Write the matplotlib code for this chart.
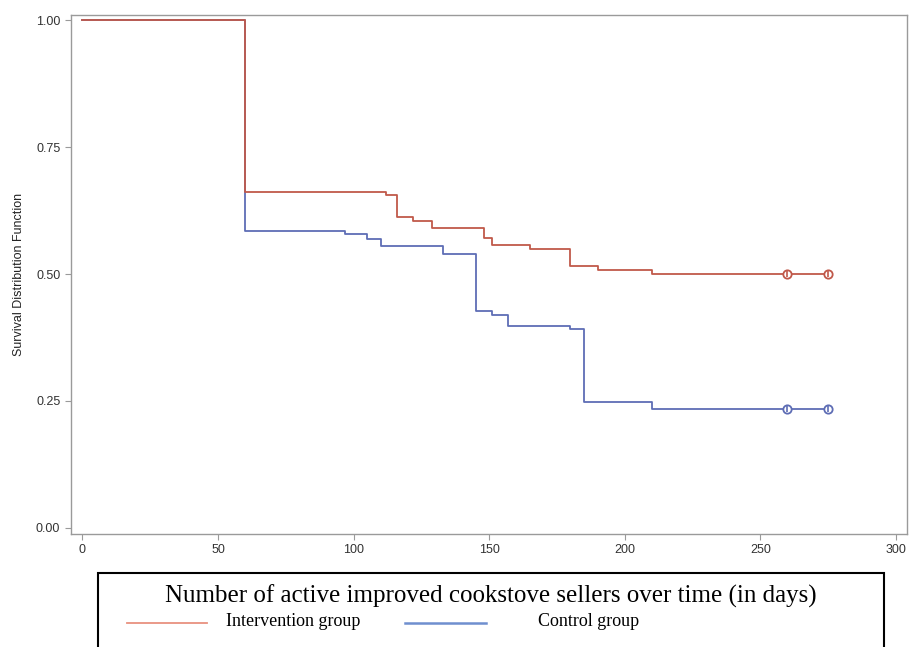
'''Kaplan-Meier curves: active improved cookstove sellers over time'''
import matplotlib
matplotlib.use('Agg')
import matplotlib.pyplot as plt
from matplotlib.patches import Rectangle
from matplotlib.lines import Line2D

# step times (days) and survival estimates
intervention_days = [0, 60, 112, 116, 122, 129, 148, 151, 165, 180, 190, 210, 275]
intervention_surv = [1.0, 0.661, 0.655, 0.612, 0.604, 0.591, 0.571, 0.558,
                     0.549, 0.516, 0.509, 0.501, 0.501]
control_days = [0, 60, 97, 105, 110, 133, 145, 151, 157, 180, 185, 210, 275]
control_surv = [1.0, 0.585, 0.578, 0.570, 0.555, 0.539, 0.427, 0.420,
                0.398, 0.392, 0.247, 0.234, 0.234]
censor_days = [260, 275]
intervention_censor = [0.501, 0.501]
control_censor = [0.234, 0.234]

x_ticks = [0, 50, 100, 150, 200, 250, 300]
y_ticks = [0.00, 0.25, 0.50, 0.75, 1.00]

RED = '#C0594A'
BLUE = '#5E6DB5'
GREY = '#9A9A9A'

fig = plt.figure(figsize=(9.09, 6.47), dpi=100)
ax = fig.add_axes([0.0778, 0.1747, 0.9197, 0.8026])

ax.step(control_days, control_surv, where='post', color=BLUE, lw=1.3)
ax.step(intervention_days, intervention_surv, where='post', color=RED, lw=1.3)
for days, vals, col in [(censor_days, control_censor, BLUE),
                        (censor_days, intervention_censor, RED)]:
    ax.plot(days, vals, ls='none', marker='o', ms=6, mfc='white',
            mec=col, mew=1.3)
    ax.plot(days, vals, ls='none', marker='|', ms=5, mec=col, mew=1.2)

ax.set_xlim(-4.3, 304)
ax.set_ylim(-0.012, 1.011)
ax.set_xticks(x_ticks)
ax.set_yticks(y_ticks)
ax.set_yticklabels([f'{v:.2f}' for v in y_ticks])
for side in ax.spines.values():
    side.set_color(GREY)
    side.set_linewidth(1.0)
ax.tick_params(direction='out', length=4, color=GREY, labelsize=9,
               labelcolor='#333333')
ax.set_ylabel('Survival Distribution Function', fontsize=9,
              family='Liberation Sans', color='#222222', labelpad=8)
for lab in ax.get_xticklabels() + ax.get_yticklabels():
    lab.set_family('Liberation Sans')

# legend box at the bottom, cut by the picture edge
fig.patches.append(Rectangle((0.108, -0.02), 0.8645, 0.1344,
                             transform=fig.transFigure, fill=False,
                             ec='black', lw=1.5))
fig.text(0.540, 0.079, 'Number of active improved cookstove sellers over time (in days)',
         ha='center', va='center', fontsize=18, family='Liberation Serif')
fig.lines.append(Line2D([0.140, 0.228], [0.037, 0.037], transform=fig.transFigure,
                        color='#E8917F', lw=1.3))
fig.text(0.249, 0.040, 'Intervention group', ha='left', va='center',
         fontsize=13, family='Liberation Serif')
fig.lines.append(Line2D([0.446, 0.535], [0.037, 0.037], transform=fig.transFigure,
                        color='#6F8FCF', lw=1.8))
fig.text(0.592, 0.040, 'Control group', ha='left', va='center',
         fontsize=13, family='Liberation Serif')

fig.savefig('out.png', dpi=100)
